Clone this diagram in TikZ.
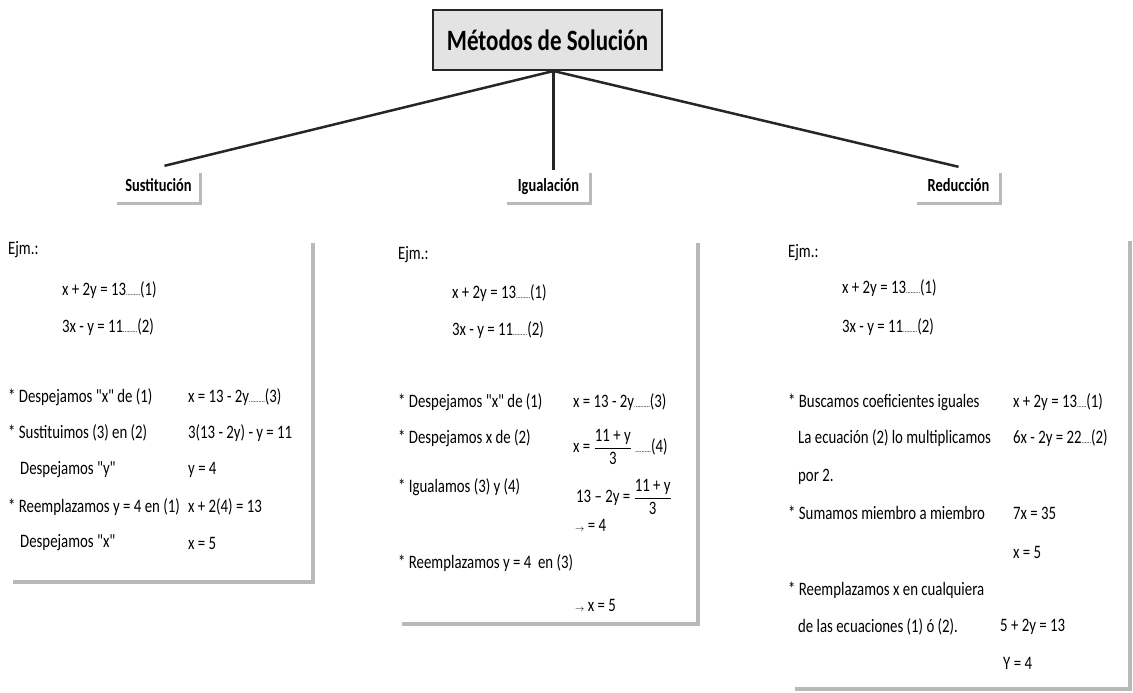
\documentclass[tikz,border=0pt]{standalone}
\usepackage{amsmath}
\usepackage{fontspec}
\setmainfont{Carlito}[Ligatures=TeXOff, FakeStretch=0.78]
\usepackage{tikz}
\usetikzlibrary{positioning}

\begin{document}
\begin{tikzpicture}[x=1pt,y=-1pt,
    every node/.style={font=\fontsize{19}{22}\selectfont},
    titulo/.style={draw=black!85, line width=2pt, fill=gray!22, minimum width=229pt, minimum height=60pt, font=\bfseries\fontsize{29.5}{34}\selectfont},
    metodo/.style={minimum width=83pt, minimum height=32pt, text height=13pt, text depth=4pt, font=\bfseries\fontsize{18.5}{22}\selectfont},
    texto/.style={anchor=west, inner sep=0pt},
    sombra/.style={line width=3pt, draw=gray!55},
    rama/.style={line width=2.5pt, draw=black!85}]
              \useasboundingbox (0,0) rectangle (1133,693);
              % Nodos
              \node[titulo] (tit) at (547.5,40) {Métodos de Solución};
              \node[metodo] (sus) at (158.5,187) {Sustitución};
              \node[metodo] (igu) at (548.5,187) {Igualación};
              \node[metodo] (red) at (958.5,187) {Reducción};

              % Paneles (solo la sombra)
              \node[minimum width=300pt, minimum height=339pt] (pa) at (163,412.5) {};
              \node[minimum width=296pt, minimum height=381pt] (pb) at (550,433.5) {};
              \node[minimum width=335pt, minimum height=448pt] (pc) at (962.5,465) {};

              % Sustitucion
              \node[texto] (a0) at (8,250) {Ejm.:};
              \node[texto] (a1) at (62,290) {x + 2y = 13{\footnotesize.........}(1)};
              \node[texto] (a2) at (62,327) {3x - y = 11{\footnotesize.........}(2)};
              \node[texto] (a3) at (8,397) {* Despejamos "x" de (1)};
              \node[texto] (a4) at (188,397) {x = 13 - 2y{\footnotesize..........}(3)};
              \node[texto] (a5) at (8,433) {* Sustituimos (3) en (2)};
              \node[texto] (a6) at (188,433) {3(13 - 2y) - y = 11};
              \node[texto] (a7) at (20,470) {Despejamos "y"};
              \node[texto] (a8) at (188,470) {y = 4};
              \node[texto] (a9) at (8,507) {* Reemplazamos y = 4 en (1)};
              \node[texto] (a10) at (188,507) {x + 2(4) = 13};
              \node[texto] (a11) at (20,543) {Despejamos "x"};
              \node[texto] (a12) at (188,543) {x = 5};

              % Igualacion
              \node[texto] (b0) at (398,255) {Ejm.:};
              \node[texto] (b1) at (452,293) {x + 2y = 13{\footnotesize.........}(1)};
              \node[texto] (b2) at (452,330) {3x - y = 11{\footnotesize.........}(2)};
              \node[texto] (b3) at (398,402) {* Despejamos "x" de (1)};
              \node[texto] (b4) at (573,402) {x = 13 - 2y{\footnotesize..........}(3)};
              \node[texto] (b5) at (398,438) {* Despejamos x de (2)};
              \node[texto] (b6) at (573,447) {x = $\dfrac{\text{11 + y}}{\text{3}}$ {\footnotesize..........}(4)};
              \node[texto] (b7) at (398,487) {* Igualamos (3) y (4)};
              \node[texto] (b8) at (576,497) {13 – 2y = $\dfrac{\text{11 + y}}{\text{3}}$};
              \node[texto] (b9) at (575,525) {{\small$\rightarrow$} = 4};
              \node[texto] (b10) at (398,563) {* Reemplazamos y = 4 \ en (3)};
              \node[texto] (b11) at (575,605) {{\small$\rightarrow$} x = 5};

              % Reduccion
              \node[texto] (c0) at (788,253) {Ejm.:};
              \node[texto] (c1) at (842,288) {x + 2y = 13{\footnotesize.........}(1)};
              \node[texto] (c2) at (842,327) {3x - y = 11{\footnotesize.........}(2)};
              \node[texto] (c3) at (788,402) {* Buscamos coeficientes iguales};
              \node[texto] (c4) at (1013,402) {x + 2y = 13{\footnotesize......}(1)};
              \node[texto] (c5) at (798,438) {La ecuación (2) lo multiplicamos};
              \node[texto] (c6) at (1013,438) {6x - 2y = 22{\footnotesize......}(2)};
              \node[texto] (c7) at (798,477) {por 2.};
              \node[texto] (c8) at (788,513) {* Sumamos miembro a miembro};
              \node[texto] (c9) at (1013,513) {7x = 35};
              \node[texto] (c10) at (1013,552) {x = 5};
              \node[texto] (c11) at (788,590) {* Reemplazamos x en cualquiera};
              \node[texto] (c12) at (798,627) {de las ecuaciones (1) ó (2).};
              \node[texto] (c13) at (1000,627) {5 + 2y = 13};
              \node[texto] (c14) at (1003,663) {Y = 4};

              % Sombras
              \draw[sombra] ([yshift=-2pt]sus.north east) -- (sus.south east) -- (sus.south west);
              \draw[sombra] ([yshift=-2pt]igu.north east) -- (igu.south east) -- (igu.south west);
              \draw[sombra] ([yshift=-2pt]red.north east) -- (red.south east) -- (red.south west);
              \draw[sombra, line width=4pt] (pa.north east) -- (pa.south east) -- (pa.south west);
              \draw[sombra, line width=4pt] (pb.north east) -- (pb.south east) -- (pb.south west);
              \draw[sombra, line width=4pt] (pc.north east) -- (pc.south east) -- (pc.south west);

              % Ramas
              \draw[rama] ([xshift=6pt]tit.south) -- ([xshift=6pt,yshift=5pt]sus.north);
              \draw[rama] ([xshift=6pt]tit.south) -- ([xshift=6pt,yshift=1pt]tit.south |- igu.north);
              \draw[rama] ([xshift=6pt]tit.south) -- ([yshift=4pt]red.north);
            \end{tikzpicture}
\end{document}
